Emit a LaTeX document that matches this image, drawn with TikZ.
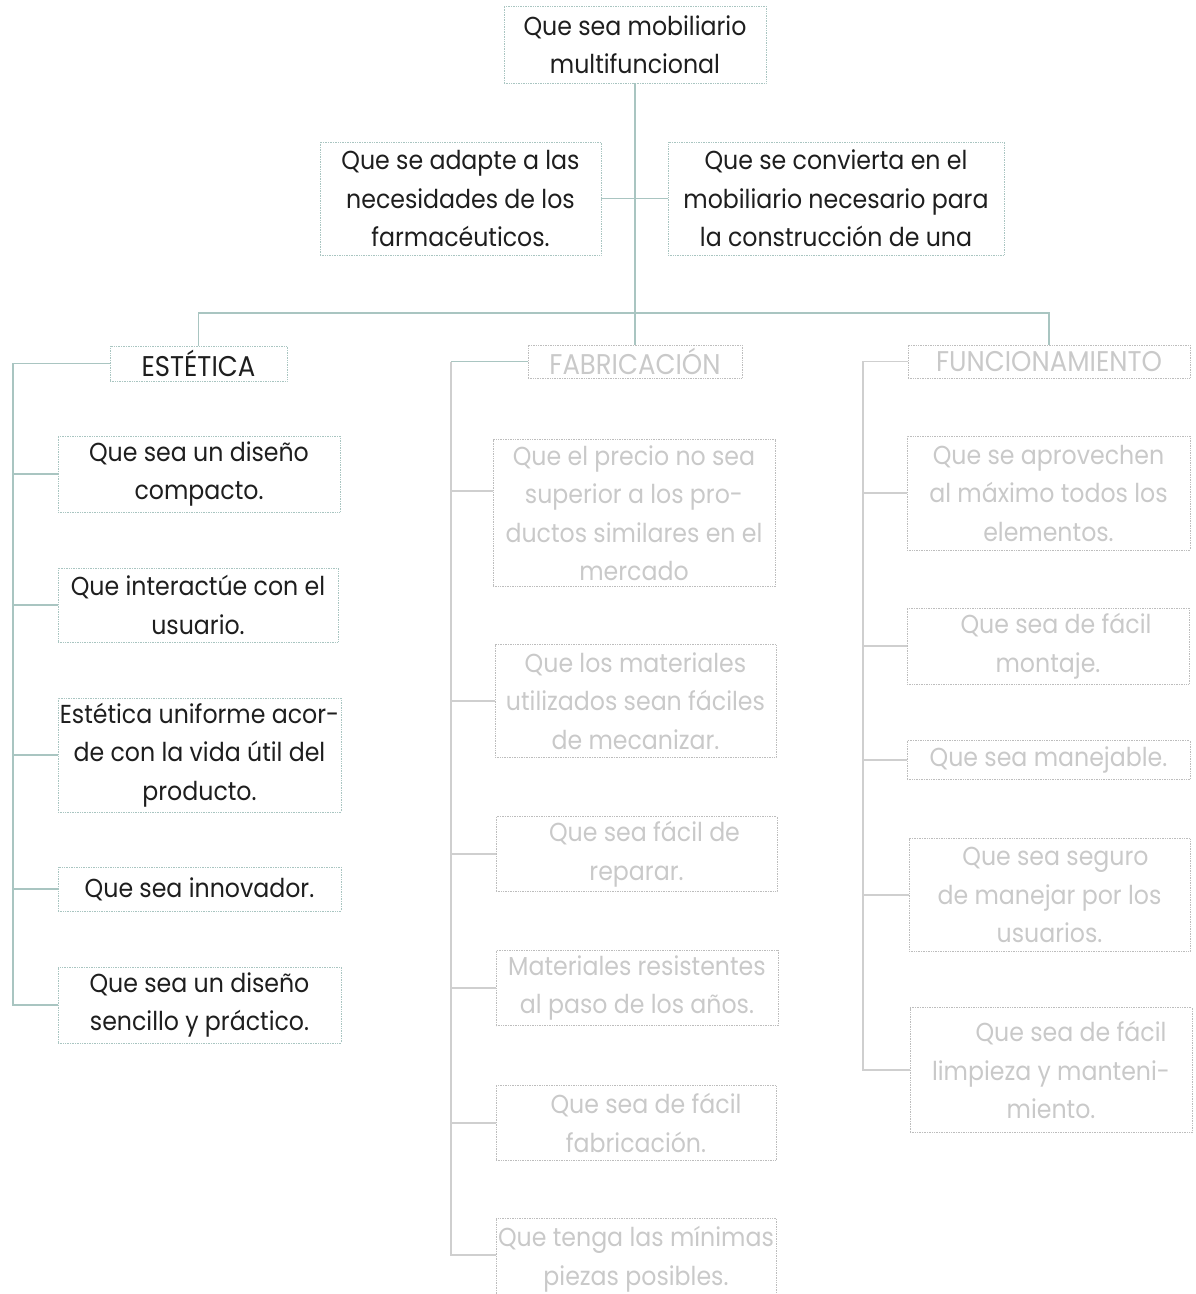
\documentclass[tikz,border=0pt]{standalone}
\usepackage{fontspec}
\setmainfont{Poppins}[FakeStretch=0.91]
\definecolor{tealc}{HTML}{A9C5C1}
\definecolor{boxg}{HTML}{BDBDBD}
\definecolor{lineg}{HTML}{CFCFCF}
\definecolor{gtext}{HTML}{C9C9C9}
\definecolor{ink}{HTML}{1E1E1E}
\begin{document}
\begin{tikzpicture}[x=1pt,y=-1pt,
  txt/.style={font=\fontsize{26}{38.5}\selectfont, align=center, inner sep=0pt},
  hdr/.style={font=\fontsize{28.5}{34}\selectfont},
  bx/.style 2 args={minimum width=#1pt, minimum height=#2pt},
  tbox/.style={txt, draw=tealc, densely dotted, line width=0.7pt, text=ink},
  gbox/.style={txt, draw=boxg, densely dotted, line width=0.7pt, text=gtext},
  tl/.style={draw=tealc, line width=1.4pt},
  gl/.style={draw=lineg, line width=1.4pt}]
\useasboundingbox (0,0) rectangle (1195,1294);
% top level
\node[tbox, bx={262}{77}] (top) at (635,44.5) {Que sea mobiliario\\multifuncional};
\node[tbox, bx={281}{113}] (adL) at (460.5,198.5) {Que se adapte a las\\necesidades de los\\farmacéuticos.};
\node[tbox, bx={336}{113}] (adR) at (836,198.5) {Que se convierta en el\\mobiliario necesario para\\la construcción de una};
% headers
\node[tbox, hdr, bx={177}{35}] (est) at (198.5,363.5) {ESTÉTICA};
\node[gbox, hdr, bx={214}{33}] (fab) at (635,361.5) {FABRICACIÓN};
\node[gbox, hdr, bx={282}{33}] (fun) at (1049,361.5) {FUNCIONAMIENTO};
% estetica items
\node[tbox, bx={282}{76}] (e1) at (199,474) {Que sea un diseño\\compacto.};
\node[tbox, bx={280}{74}] (e2) at (198,605) {Que interactúe con el\\usuario.};
\node[tbox, bx={283}{114}] (e3) at (199.5,755) {Estética uniforme acor-\\de con la vida útil del\\producto.};
\node[tbox, bx={283}{44}] (e4) at (199.5,889) {Que sea innovador.};
\node[tbox, bx={283}{76}] (e5) at (199.5,1005) {Que sea un diseño\\sencillo y práctico.};
% fabricacion items
\node[gbox, bx={282}{147}] (f1) at (634,513) {Que el precio no sea\\superior a los pro-\\ductos similares en el\\mercado};
\node[gbox, bx={281}{113}] (f2) at (635.5,701) {Que los materiales\\utilizados sean fáciles\\de mecanizar.};
\node[gbox, bx={281}{75}] (f3) at (636.5,854) {\hspace*{16pt}Que sea fácil de\\reparar.};
\node[gbox, bx={282}{75}] (f4) at (637,988) {Materiales resistentes\\al paso de los años.};
\node[gbox, bx={280}{75}] (f5) at (636,1123) {\hspace*{20pt}Que sea de fácil\\fabricación.};
\node[gbox, bx={280}{82}] (f6) at (636,1259) {Que tenga las mínimas\\piezas posibles.};
% funcionamiento items
\node[gbox, bx={283}{114}] (u1) at (1048.5,493) {Que se aprovechen\\al máximo todos los\\elementos.};
\node[gbox, bx={282}{76}] (u2) at (1048,646) {\hspace*{16pt}Que sea de fácil\\montaje.};
\node[gbox, bx={283}{39}] (u3) at (1048.5,760) {Que sea manejable.};
\node[gbox, bx={281}{113}] (u4) at (1049.5,895) {\hspace*{12pt}Que sea seguro\\de manejar por los\\usuarios.};
\node[gbox, bx={282}{125}] (u5) at (1051,1070) {\hspace*{40pt}Que sea de fácil\\limpieza y manteni-\\miento.};
% junction coordinates
\coordinate (hb) at (0,313);
\coordinate (ecx) at (13,0);
\coordinate (fcx) at (451,0);
\coordinate (ucx) at (863,0);
% top tree
\draw[tl] (top.south) -- (fab.north);
\draw[tl] (adL.east) -- (adR.west);
\draw[tl] (est.north) -- (est.north |- hb) -- (fun.north |- hb) -- (fun.north);
% estetica column
\draw[tl] (est.west) -- (est.west -| ecx) -- (e5.west -| ecx) -- (e5.west);
\foreach \n in {e1,e2,e3,e4} \draw[tl] (\n.west) -- (\n.west -| ecx);
% fabricacion column
\draw[tl] (fab.west) -- (fab.west -| fcx);
\draw[gl] (fab.west -| fcx) -- ([yshift=4pt]f6.west -| fcx) -- ([yshift=4pt]f6.west);
\draw[gl] ([yshift=22pt]f1.west) -- ([yshift=22pt]f1.west -| fcx);
\foreach \n in {f2,f3,f4,f5} \draw[gl] (\n.west) -- (\n.west -| fcx);
% funcionamiento column
\draw[gl] (fun.west) -- (fun.west -| ucx) -- (u5.west -| ucx) -- (u5.west);
\foreach \n in {u1,u2,u3,u4} \draw[gl] (\n.west) -- (\n.west -| ucx);
\end{tikzpicture}
\end{document}
